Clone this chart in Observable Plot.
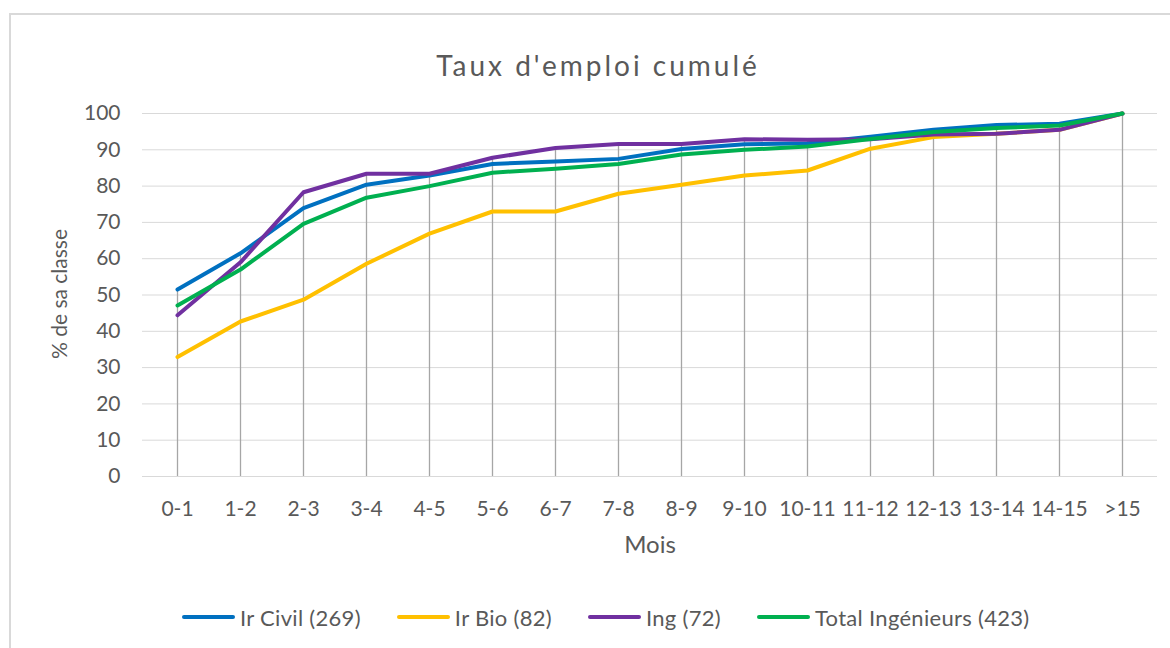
<!DOCTYPE html>
<html>
<head>
<meta charset="utf-8">
<script src="https://cdn.jsdelivr.net/npm/d3@7"></script>
<script src="https://cdn.jsdelivr.net/npm/@observablehq/plot@0.6"></script>
<style>
  html, body { margin: 0; padding: 0; background: #fff; }
  #wrap { position: relative; width: 1170px; height: 648px; overflow: hidden; background: #fff; font-family: Lato, "Open Sans", sans-serif; }
  #frame { position: absolute; left: 9px; top: 13px; width: 1200px; height: 700px; border-left: 2px solid #d9d9d9; border-top: 2px solid #d9d9d9; box-sizing: border-box; }
  #chart { position: absolute; left: 0; top: 0; }
  #legend { position: absolute; left: 182px; top: 603px; height: 28px; display: flex; align-items: center; font-size: 22px; color: #595959; white-space: nowrap; letter-spacing: 0.3px; }
  .item { display: flex; align-items: center; margin-right: 36px; }
  .sw { width: 53px; height: 4px; border-radius: 2px; margin-right: 5px; }
</style>
</head>
<body>
<div id="wrap">
  <div id="frame"></div>
  <div id="chart"></div>
  <div id="legend"></div>
</div>
<script>
const months = ["0-1","1-2","2-3","3-4","4-5","5-6","6-7","7-8","8-9","9-10","10-11","11-12","12-13","13-14","14-15",">15"];
const seriesNames = ["Ir Civil (269)", "Ir Bio (82)", "Ing (72)", "Total Ingénieurs (423)"];
const seriesColors = ["#0070C0", "#FFC000", "#7030A0", "#00B050"];
const irCivil = [51.5, 61.5, 73.9, 80.4, 82.9, 86.1, 86.8, 87.5, 90.2, 91.5, 91.8, 93.6, 95.5, 96.8, 97.2, 100];
const irBio   = [32.9, 42.7, 48.7, 58.6, 66.9, 73.0, 73.0, 77.9, 80.4, 82.9, 84.3, 90.3, 93.5, 94.4, 95.5, 100];
const ing     = [44.4, 59.0, 78.3, 83.4, 83.4, 87.8, 90.5, 91.6, 91.6, 92.9, 92.8, 92.9, 94.2, 94.4, 95.5, 100];
const total   = [47.1, 57.0, 69.6, 76.8, 80.0, 83.7, 84.8, 86.1, 88.7, 90.0, 90.9, 93.0, 94.9, 96.0, 96.7, 100];
const yTicks = [0, 10, 20, 30, 40, 50, 60, 70, 80, 90, 100];
const title = "Taux d'emploi cumulé";
const yLabel = "% de sa classe";
const xLabel = "Mois";

const allSeries = [irCivil, irBio, ing, total];
const rows = [];
allSeries.forEach((vals, s) => vals.forEach((v, i) => rows.push({month: months[i], value: v, series: seriesNames[s]})));
const drops = months.map((m, i) => ({month: m, top: d3.max(allSeries, s => s[i])}));

const font = "Lato, 'Open Sans', sans-serif";
const chart = Plot.plot({
  width: 1170,
  height: 648,
  marginLeft: 142,
  marginRight: 13,
  marginTop: 113,
  marginBottom: 172,
  style: {fontFamily: font, fontSize: "21px", color: "#595959", background: "transparent", overflow: "visible"},
  x: {type: "point", domain: months, padding: 0.5},
  y: {domain: [0, 100]},
  color: {domain: seriesNames, range: seriesColors},
  marks: [
    Plot.gridY(yTicks, {stroke: "#d9d9d9", strokeOpacity: 1, strokeWidth: 1}),
    Plot.ruleX(drops, {x: "month", y1: 0, y2: "top", stroke: "#a6a6a6", strokeWidth: 1.3}),
    Plot.line(rows, {x: "month", y: "value", z: "series", stroke: "series", strokeWidth: 4, strokeLinejoin: "round", strokeLinecap: "round"}),
    Plot.axisY(yTicks, {tickSize: 0, tickPadding: 22, label: null, fill: "#595959", fontSize: 21}),
    Plot.axisX({tickSize: 0, tickPadding: 25, label: null, fill: "#595959", fontSize: 21}),
    Plot.text([yLabel], {frameAnchor: "left", textAnchor: "middle", dx: -82, dy: -1, rotate: -90, fontSize: 21, fill: "#595959"}),
    Plot.text([xLabel], {frameAnchor: "bottom", dy: 76, fontSize: 24, fill: "#595959"}),
    Plot.text([title], {frameAnchor: "top", dx: -52, dy: -57, fontSize: 28, fill: "#595959"})
  ]
});
document.getElementById("chart").appendChild(chart);
// widen title spacing like the reference
d3.select(chart).selectAll("text").filter(function() { return this.textContent === title; }).style("letter-spacing", "3px");

const legend = document.getElementById("legend");
seriesNames.forEach((name, i) => {
  const it = document.createElement("div");
  it.className = "item";
  const sw = document.createElement("div");
  sw.className = "sw";
  sw.style.background = seriesColors[i];
  const tx = document.createElement("span");
  tx.textContent = name;
  it.appendChild(sw);
  it.appendChild(tx);
  legend.appendChild(it);
});
</script>
</body>
</html>
